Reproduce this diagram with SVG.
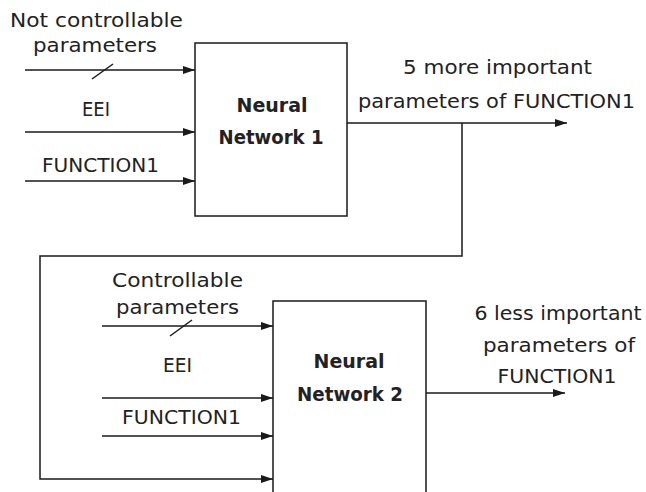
<svg xmlns="http://www.w3.org/2000/svg" width="646" height="492" viewBox="0 0 646 492">
<defs>
<marker id="ah" viewBox="0 0 12 8" refX="12" refY="4" markerWidth="12" markerHeight="8" markerUnits="userSpaceOnUse" orient="auto">
<path d="M0,0 L12,4 L0,8 Z" fill="#1a1a1a"/>
</marker>
<style>
.t{font-family:"DejaVu Sans","Liberation Sans",sans-serif;font-size:19px;fill:#222;text-anchor:middle}
.b{font-family:"DejaVu Sans","Liberation Sans",sans-serif;font-size:19px;font-weight:bold;fill:#222;text-anchor:middle}
.ln{fill:none;stroke:#1a1a1a;stroke-width:1.5}
.box{fill:#fff;stroke:#1a1a1a;stroke-width:1.5}
</style>
</defs>
<rect width="646" height="492" fill="#fff"/>
<g id="connectors">
<line class="ln" x1="25" y1="70" x2="195" y2="70" marker-end="url(#ah)"/>
<line class="ln" x1="92" y1="79" x2="113" y2="64"/>
<line class="ln" x1="25" y1="132" x2="195" y2="132" marker-end="url(#ah)"/>
<line class="ln" x1="25" y1="181" x2="195" y2="181" marker-end="url(#ah)"/>
<line class="ln" x1="347" y1="123" x2="567" y2="123" marker-end="url(#ah)"/>
<polyline class="ln" points="462,123 462,256 40,256 40,479 273,479" marker-end="url(#ah)"/>
<line class="ln" x1="102" y1="326" x2="273" y2="326" marker-end="url(#ah)"/>
<line class="ln" x1="170" y1="336" x2="192" y2="320"/>
<line class="ln" x1="102" y1="398" x2="273" y2="398" marker-end="url(#ah)"/>
<line class="ln" x1="102" y1="436" x2="273" y2="436" marker-end="url(#ah)"/>
<line class="ln" x1="426" y1="393" x2="565" y2="393" marker-end="url(#ah)"/>
</g>
<g id="nn1">
<rect class="box" x="195" y="43" width="152" height="173"/>
<text class="b" x="272" y="112" textLength="71" lengthAdjust="spacingAndGlyphs">Neural</text>
<text class="b" x="271" y="144" textLength="105" lengthAdjust="spacingAndGlyphs">Network 1</text>
</g>
<g id="nn2">
<path class="ln" d="M273,494 V301 H426 V494"/>
<text class="b" x="349" y="368" textLength="71" lengthAdjust="spacingAndGlyphs">Neural</text>
<text class="b" x="350" y="401" textLength="106" lengthAdjust="spacingAndGlyphs">Network 2</text>
</g>
<g id="labels">
<text class="t" x="96.5" y="27" textLength="173" lengthAdjust="spacingAndGlyphs">Not controllable</text>
<text class="t" x="95" y="52" textLength="124" lengthAdjust="spacingAndGlyphs">parameters</text>
<text class="t" x="96" y="116" textLength="28" lengthAdjust="spacingAndGlyphs">EEI</text>
<text class="t" x="100.5" y="172" textLength="117" lengthAdjust="spacingAndGlyphs">FUNCTION1</text>
<text class="t" x="497.5" y="74" textLength="189" lengthAdjust="spacingAndGlyphs">5 more important</text>
<text class="t" x="496.5" y="108" textLength="277" lengthAdjust="spacingAndGlyphs">parameters of FUNCTION1</text>
<text class="t" x="177.5" y="287" textLength="131" lengthAdjust="spacingAndGlyphs">Controllable</text>
<text class="t" x="177.5" y="314" textLength="123" lengthAdjust="spacingAndGlyphs">parameters</text>
<text class="t" x="177.5" y="372" textLength="29" lengthAdjust="spacingAndGlyphs">EEI</text>
<text class="t" x="181.5" y="424" textLength="119" lengthAdjust="spacingAndGlyphs">FUNCTION1</text>
<text class="t" x="558" y="320" textLength="167" lengthAdjust="spacingAndGlyphs">6 less important</text>
<text class="t" x="559" y="352" textLength="152" lengthAdjust="spacingAndGlyphs">parameters of</text>
<text class="t" x="557" y="383" textLength="119" lengthAdjust="spacingAndGlyphs">FUNCTION1</text>
</g>
</svg>
